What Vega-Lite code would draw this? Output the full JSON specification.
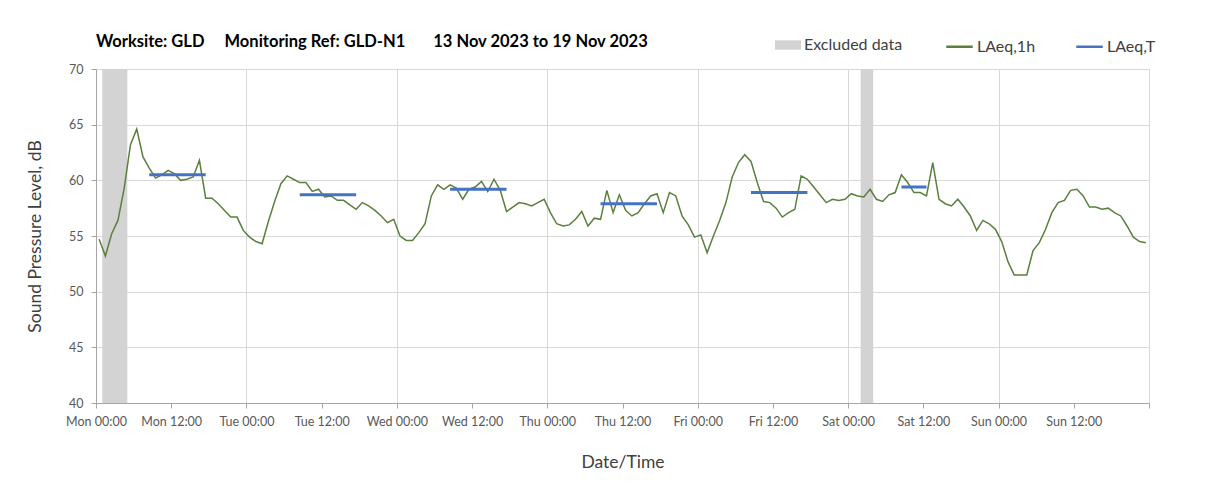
{
  "$schema": "https://vega.github.io/schema/vega-lite/v6.json",
  "width": 1053,
  "height": 334,
  "autosize": {"type": "none"},
  "padding": {"left": 96, "top": 69, "right": 59, "bottom": 93},
  "background": "white",
  "config": {
    "font": "Lato",
    "view": {"stroke": null},
    "axis": {
      "labelFontSize": 12.5,
      "labelColor": "#595959",
      "titleFontSize": 17.5,
      "titleFontWeight": "normal",
      "titleColor": "#404040",
      "domainColor": "#a6a6a6",
      "tickColor": "#a6a6a6",
      "tickSize": 5,
      "gridColor": "#d9d9d9"
    },
    "legend": {
      "orient": "none",
      "direction": "horizontal",
      "padding": 0,
      "labelFontSize": 16,
      "labelColor": "#404040",
      "labelOffset": 3,
      "columnPadding": 35,
      "symbolSize": 700
    }
  },
  "title": {
    "text": "Worksite: GLD\u00a0\u00a0\u00a0\u00a0\u00a0Monitoring Ref: GLD-N1\u00a0\u00a0\u00a0\u00a0\u00a0\u00a0\u00a013 Nov 2023 to 19 Nov 2023",
    "anchor": "start",
    "frame": "group",
    "fontSize": 16.5,
    "fontWeight": "bold",
    "color": "#000000",
    "offset": 12,
    "dy": 30
  },
  "layer": [
    {
      "data": {"values": [
        {"start": "2023-11-13T01:00:00", "end": "2023-11-13T05:00:00", "series": "Excluded data"},
        {"start": "2023-11-18T02:00:00", "end": "2023-11-18T04:00:00", "series": "Excluded data"}
      ]},
      "mark": {"type": "rect"},
      "encoding": {
        "x": {
          "field": "start",
          "type": "temporal",
          "scale": {
            "domain": [
              {"year": 2023, "month": 11, "date": 13},
              {"year": 2023, "month": 11, "date": 20}
            ]
          },
          "axis": {
            "title": "Date/Time",
            "format": "%a %H:%M",
            "tickCount": 14,
            "labelExpr": "date(datum.value) === 20 ? '' : datum.label",
            "labelFlush": false,
            "labelPadding": 7,
            "titlePadding": 26,
            "grid": true,
            "gridOpacity": {"condition": {"test": "hours(datum.value) === 0", "value": 1}, "value": 0}
          }
        },
        "x2": {"field": "end"},
        "fill": {
          "field": "series",
          "type": "nominal",
          "scale": {"domain": ["Excluded data"], "range": ["#d3d3d3"]},
          "legend": {
            "title": null,
            "legendX": 679,
            "legendY": -37,
            "symbolType": "M-1,-0.36H1V0.36H-1Z",
            "symbolStrokeWidth": 0,
            "symbolSize": 676
          }
        }
      }
    },
    {
      "data": {"values": [
        {"t": "2023-11-13T00:30:00", "laeq": 54.7, "series": "LAeq,1h"}, {"t": "2023-11-13T01:30:00", "laeq": 53.2, "series": "LAeq,1h"},
        {"t": "2023-11-13T02:30:00", "laeq": 55.2, "series": "LAeq,1h"}, {"t": "2023-11-13T03:30:00", "laeq": 56.4, "series": "LAeq,1h"},
        {"t": "2023-11-13T04:30:00", "laeq": 59.3, "series": "LAeq,1h"}, {"t": "2023-11-13T05:30:00", "laeq": 63.2, "series": "LAeq,1h"},
        {"t": "2023-11-13T06:30:00", "laeq": 64.6, "series": "LAeq,1h"}, {"t": "2023-11-13T07:30:00", "laeq": 62.1, "series": "LAeq,1h"},
        {"t": "2023-11-13T08:30:00", "laeq": 61.1, "series": "LAeq,1h"}, {"t": "2023-11-13T09:30:00", "laeq": 60.2, "series": "LAeq,1h"},
        {"t": "2023-11-13T10:30:00", "laeq": 60.5, "series": "LAeq,1h"}, {"t": "2023-11-13T11:30:00", "laeq": 60.9, "series": "LAeq,1h"},
        {"t": "2023-11-13T12:30:00", "laeq": 60.6, "series": "LAeq,1h"}, {"t": "2023-11-13T13:30:00", "laeq": 60.0, "series": "LAeq,1h"},
        {"t": "2023-11-13T14:30:00", "laeq": 60.1, "series": "LAeq,1h"}, {"t": "2023-11-13T15:30:00", "laeq": 60.3, "series": "LAeq,1h"},
        {"t": "2023-11-13T16:30:00", "laeq": 61.8, "series": "LAeq,1h"}, {"t": "2023-11-13T17:30:00", "laeq": 58.4, "series": "LAeq,1h"},
        {"t": "2023-11-13T18:30:00", "laeq": 58.4, "series": "LAeq,1h"}, {"t": "2023-11-13T19:30:00", "laeq": 57.9, "series": "LAeq,1h"},
        {"t": "2023-11-13T20:30:00", "laeq": 57.3, "series": "LAeq,1h"}, {"t": "2023-11-13T21:30:00", "laeq": 56.7, "series": "LAeq,1h"},
        {"t": "2023-11-13T22:30:00", "laeq": 56.7, "series": "LAeq,1h"}, {"t": "2023-11-13T23:30:00", "laeq": 55.5, "series": "LAeq,1h"},
        {"t": "2023-11-14T00:30:00", "laeq": 54.9, "series": "LAeq,1h"}, {"t": "2023-11-14T01:30:00", "laeq": 54.5, "series": "LAeq,1h"},
        {"t": "2023-11-14T02:30:00", "laeq": 54.3, "series": "LAeq,1h"}, {"t": "2023-11-14T03:30:00", "laeq": 56.3, "series": "LAeq,1h"},
        {"t": "2023-11-14T04:30:00", "laeq": 58.1, "series": "LAeq,1h"}, {"t": "2023-11-14T05:30:00", "laeq": 59.7, "series": "LAeq,1h"},
        {"t": "2023-11-14T06:30:00", "laeq": 60.4, "series": "LAeq,1h"}, {"t": "2023-11-14T07:30:00", "laeq": 60.1, "series": "LAeq,1h"},
        {"t": "2023-11-14T08:30:00", "laeq": 59.8, "series": "LAeq,1h"}, {"t": "2023-11-14T09:30:00", "laeq": 59.8, "series": "LAeq,1h"},
        {"t": "2023-11-14T10:30:00", "laeq": 59.0, "series": "LAeq,1h"}, {"t": "2023-11-14T11:30:00", "laeq": 59.2, "series": "LAeq,1h"},
        {"t": "2023-11-14T12:30:00", "laeq": 58.5, "series": "LAeq,1h"}, {"t": "2023-11-14T13:30:00", "laeq": 58.6, "series": "LAeq,1h"},
        {"t": "2023-11-14T14:30:00", "laeq": 58.2, "series": "LAeq,1h"}, {"t": "2023-11-14T15:30:00", "laeq": 58.2, "series": "LAeq,1h"},
        {"t": "2023-11-14T16:30:00", "laeq": 57.8, "series": "LAeq,1h"}, {"t": "2023-11-14T17:30:00", "laeq": 57.4, "series": "LAeq,1h"},
        {"t": "2023-11-14T18:30:00", "laeq": 58.0, "series": "LAeq,1h"}, {"t": "2023-11-14T19:30:00", "laeq": 57.7, "series": "LAeq,1h"},
        {"t": "2023-11-14T20:30:00", "laeq": 57.3, "series": "LAeq,1h"}, {"t": "2023-11-14T21:30:00", "laeq": 56.8, "series": "LAeq,1h"},
        {"t": "2023-11-14T22:30:00", "laeq": 56.2, "series": "LAeq,1h"}, {"t": "2023-11-14T23:30:00", "laeq": 56.5, "series": "LAeq,1h"},
        {"t": "2023-11-15T00:30:00", "laeq": 55.0, "series": "LAeq,1h"}, {"t": "2023-11-15T01:30:00", "laeq": 54.6, "series": "LAeq,1h"},
        {"t": "2023-11-15T02:30:00", "laeq": 54.6, "series": "LAeq,1h"}, {"t": "2023-11-15T03:30:00", "laeq": 55.3, "series": "LAeq,1h"},
        {"t": "2023-11-15T04:30:00", "laeq": 56.1, "series": "LAeq,1h"}, {"t": "2023-11-15T05:30:00", "laeq": 58.6, "series": "LAeq,1h"},
        {"t": "2023-11-15T06:30:00", "laeq": 59.6, "series": "LAeq,1h"}, {"t": "2023-11-15T07:30:00", "laeq": 59.2, "series": "LAeq,1h"},
        {"t": "2023-11-15T08:30:00", "laeq": 59.6, "series": "LAeq,1h"}, {"t": "2023-11-15T09:30:00", "laeq": 59.3, "series": "LAeq,1h"},
        {"t": "2023-11-15T10:30:00", "laeq": 58.3, "series": "LAeq,1h"}, {"t": "2023-11-15T11:30:00", "laeq": 59.2, "series": "LAeq,1h"},
        {"t": "2023-11-15T12:30:00", "laeq": 59.4, "series": "LAeq,1h"}, {"t": "2023-11-15T13:30:00", "laeq": 59.9, "series": "LAeq,1h"},
        {"t": "2023-11-15T14:30:00", "laeq": 59.0, "series": "LAeq,1h"}, {"t": "2023-11-15T15:30:00", "laeq": 60.1, "series": "LAeq,1h"},
        {"t": "2023-11-15T16:30:00", "laeq": 59.1, "series": "LAeq,1h"}, {"t": "2023-11-15T17:30:00", "laeq": 57.2, "series": "LAeq,1h"},
        {"t": "2023-11-15T18:30:00", "laeq": 57.6, "series": "LAeq,1h"}, {"t": "2023-11-15T19:30:00", "laeq": 58.0, "series": "LAeq,1h"},
        {"t": "2023-11-15T20:30:00", "laeq": 57.9, "series": "LAeq,1h"}, {"t": "2023-11-15T21:30:00", "laeq": 57.7, "series": "LAeq,1h"},
        {"t": "2023-11-15T22:30:00", "laeq": 58.0, "series": "LAeq,1h"}, {"t": "2023-11-15T23:30:00", "laeq": 58.3, "series": "LAeq,1h"},
        {"t": "2023-11-16T00:30:00", "laeq": 57.1, "series": "LAeq,1h"}, {"t": "2023-11-16T01:30:00", "laeq": 56.1, "series": "LAeq,1h"},
        {"t": "2023-11-16T02:30:00", "laeq": 55.9, "series": "LAeq,1h"}, {"t": "2023-11-16T03:30:00", "laeq": 56.0, "series": "LAeq,1h"},
        {"t": "2023-11-16T04:30:00", "laeq": 56.5, "series": "LAeq,1h"}, {"t": "2023-11-16T05:30:00", "laeq": 57.2, "series": "LAeq,1h"},
        {"t": "2023-11-16T06:30:00", "laeq": 55.9, "series": "LAeq,1h"}, {"t": "2023-11-16T07:30:00", "laeq": 56.6, "series": "LAeq,1h"},
        {"t": "2023-11-16T08:30:00", "laeq": 56.5, "series": "LAeq,1h"}, {"t": "2023-11-16T09:30:00", "laeq": 59.1, "series": "LAeq,1h"},
        {"t": "2023-11-16T10:30:00", "laeq": 57.1, "series": "LAeq,1h"}, {"t": "2023-11-16T11:30:00", "laeq": 58.7, "series": "LAeq,1h"},
        {"t": "2023-11-16T12:30:00", "laeq": 57.3, "series": "LAeq,1h"}, {"t": "2023-11-16T13:30:00", "laeq": 56.8, "series": "LAeq,1h"},
        {"t": "2023-11-16T14:30:00", "laeq": 57.1, "series": "LAeq,1h"}, {"t": "2023-11-16T15:30:00", "laeq": 57.9, "series": "LAeq,1h"},
        {"t": "2023-11-16T16:30:00", "laeq": 58.6, "series": "LAeq,1h"}, {"t": "2023-11-16T17:30:00", "laeq": 58.8, "series": "LAeq,1h"},
        {"t": "2023-11-16T18:30:00", "laeq": 57.1, "series": "LAeq,1h"}, {"t": "2023-11-16T19:30:00", "laeq": 58.9, "series": "LAeq,1h"},
        {"t": "2023-11-16T20:30:00", "laeq": 58.6, "series": "LAeq,1h"}, {"t": "2023-11-16T21:30:00", "laeq": 56.8, "series": "LAeq,1h"},
        {"t": "2023-11-16T22:30:00", "laeq": 56.0, "series": "LAeq,1h"}, {"t": "2023-11-16T23:30:00", "laeq": 54.9, "series": "LAeq,1h"},
        {"t": "2023-11-17T00:30:00", "laeq": 55.1, "series": "LAeq,1h"}, {"t": "2023-11-17T01:30:00", "laeq": 53.5, "series": "LAeq,1h"},
        {"t": "2023-11-17T02:30:00", "laeq": 55.0, "series": "LAeq,1h"}, {"t": "2023-11-17T03:30:00", "laeq": 56.4, "series": "LAeq,1h"},
        {"t": "2023-11-17T04:30:00", "laeq": 58.0, "series": "LAeq,1h"}, {"t": "2023-11-17T05:30:00", "laeq": 60.3, "series": "LAeq,1h"},
        {"t": "2023-11-17T06:30:00", "laeq": 61.6, "series": "LAeq,1h"}, {"t": "2023-11-17T07:30:00", "laeq": 62.3, "series": "LAeq,1h"},
        {"t": "2023-11-17T08:30:00", "laeq": 61.7, "series": "LAeq,1h"}, {"t": "2023-11-17T09:30:00", "laeq": 59.8, "series": "LAeq,1h"},
        {"t": "2023-11-17T10:30:00", "laeq": 58.1, "series": "LAeq,1h"}, {"t": "2023-11-17T11:30:00", "laeq": 58.0, "series": "LAeq,1h"},
        {"t": "2023-11-17T12:30:00", "laeq": 57.5, "series": "LAeq,1h"}, {"t": "2023-11-17T13:30:00", "laeq": 56.7, "series": "LAeq,1h"},
        {"t": "2023-11-17T14:30:00", "laeq": 57.1, "series": "LAeq,1h"}, {"t": "2023-11-17T15:30:00", "laeq": 57.4, "series": "LAeq,1h"},
        {"t": "2023-11-17T16:30:00", "laeq": 60.4, "series": "LAeq,1h"}, {"t": "2023-11-17T17:30:00", "laeq": 60.1, "series": "LAeq,1h"},
        {"t": "2023-11-17T18:30:00", "laeq": 59.4, "series": "LAeq,1h"}, {"t": "2023-11-17T19:30:00", "laeq": 58.7, "series": "LAeq,1h"},
        {"t": "2023-11-17T20:30:00", "laeq": 58.0, "series": "LAeq,1h"}, {"t": "2023-11-17T21:30:00", "laeq": 58.3, "series": "LAeq,1h"},
        {"t": "2023-11-17T22:30:00", "laeq": 58.2, "series": "LAeq,1h"}, {"t": "2023-11-17T23:30:00", "laeq": 58.3, "series": "LAeq,1h"},
        {"t": "2023-11-18T00:30:00", "laeq": 58.8, "series": "LAeq,1h"}, {"t": "2023-11-18T01:30:00", "laeq": 58.6, "series": "LAeq,1h"},
        {"t": "2023-11-18T02:30:00", "laeq": 58.5, "series": "LAeq,1h"}, {"t": "2023-11-18T03:30:00", "laeq": 59.2, "series": "LAeq,1h"},
        {"t": "2023-11-18T04:30:00", "laeq": 58.3, "series": "LAeq,1h"}, {"t": "2023-11-18T05:30:00", "laeq": 58.1, "series": "LAeq,1h"},
        {"t": "2023-11-18T06:30:00", "laeq": 58.7, "series": "LAeq,1h"}, {"t": "2023-11-18T07:30:00", "laeq": 58.9, "series": "LAeq,1h"},
        {"t": "2023-11-18T08:30:00", "laeq": 60.5, "series": "LAeq,1h"}, {"t": "2023-11-18T09:30:00", "laeq": 59.8, "series": "LAeq,1h"},
        {"t": "2023-11-18T10:30:00", "laeq": 58.9, "series": "LAeq,1h"}, {"t": "2023-11-18T11:30:00", "laeq": 58.9, "series": "LAeq,1h"},
        {"t": "2023-11-18T12:30:00", "laeq": 58.6, "series": "LAeq,1h"}, {"t": "2023-11-18T13:30:00", "laeq": 61.6, "series": "LAeq,1h"},
        {"t": "2023-11-18T14:30:00", "laeq": 58.3, "series": "LAeq,1h"}, {"t": "2023-11-18T15:30:00", "laeq": 57.9, "series": "LAeq,1h"},
        {"t": "2023-11-18T16:30:00", "laeq": 57.7, "series": "LAeq,1h"}, {"t": "2023-11-18T17:30:00", "laeq": 58.3, "series": "LAeq,1h"},
        {"t": "2023-11-18T18:30:00", "laeq": 57.6, "series": "LAeq,1h"}, {"t": "2023-11-18T19:30:00", "laeq": 56.8, "series": "LAeq,1h"},
        {"t": "2023-11-18T20:30:00", "laeq": 55.5, "series": "LAeq,1h"}, {"t": "2023-11-18T21:30:00", "laeq": 56.4, "series": "LAeq,1h"},
        {"t": "2023-11-18T22:30:00", "laeq": 56.1, "series": "LAeq,1h"}, {"t": "2023-11-18T23:30:00", "laeq": 55.6, "series": "LAeq,1h"},
        {"t": "2023-11-19T00:30:00", "laeq": 54.5, "series": "LAeq,1h"}, {"t": "2023-11-19T01:30:00", "laeq": 52.7, "series": "LAeq,1h"},
        {"t": "2023-11-19T02:30:00", "laeq": 51.5, "series": "LAeq,1h"}, {"t": "2023-11-19T03:30:00", "laeq": 51.5, "series": "LAeq,1h"},
        {"t": "2023-11-19T04:30:00", "laeq": 51.5, "series": "LAeq,1h"}, {"t": "2023-11-19T05:30:00", "laeq": 53.7, "series": "LAeq,1h"},
        {"t": "2023-11-19T06:30:00", "laeq": 54.4, "series": "LAeq,1h"}, {"t": "2023-11-19T07:30:00", "laeq": 55.6, "series": "LAeq,1h"},
        {"t": "2023-11-19T08:30:00", "laeq": 57.1, "series": "LAeq,1h"}, {"t": "2023-11-19T09:30:00", "laeq": 58.0, "series": "LAeq,1h"},
        {"t": "2023-11-19T10:30:00", "laeq": 58.2, "series": "LAeq,1h"}, {"t": "2023-11-19T11:30:00", "laeq": 59.1, "series": "LAeq,1h"},
        {"t": "2023-11-19T12:30:00", "laeq": 59.2, "series": "LAeq,1h"}, {"t": "2023-11-19T13:30:00", "laeq": 58.6, "series": "LAeq,1h"},
        {"t": "2023-11-19T14:30:00", "laeq": 57.6, "series": "LAeq,1h"}, {"t": "2023-11-19T15:30:00", "laeq": 57.6, "series": "LAeq,1h"},
        {"t": "2023-11-19T16:30:00", "laeq": 57.4, "series": "LAeq,1h"}, {"t": "2023-11-19T17:30:00", "laeq": 57.5, "series": "LAeq,1h"},
        {"t": "2023-11-19T18:30:00", "laeq": 57.1, "series": "LAeq,1h"}, {"t": "2023-11-19T19:30:00", "laeq": 56.8, "series": "LAeq,1h"},
        {"t": "2023-11-19T20:30:00", "laeq": 55.9, "series": "LAeq,1h"}, {"t": "2023-11-19T21:30:00", "laeq": 54.9, "series": "LAeq,1h"},
        {"t": "2023-11-19T22:30:00", "laeq": 54.5, "series": "LAeq,1h"}, {"t": "2023-11-19T23:30:00", "laeq": 54.4, "series": "LAeq,1h"}
      ]},
      "mark": {"type": "line", "strokeWidth": 1.5},
      "encoding": {
        "x": {"field": "t", "type": "temporal"},
        "y": {
          "field": "laeq",
          "type": "quantitative",
          "scale": {"domain": [40, 70], "nice": false, "zero": false},
          "axis": {
            "title": "Sound Pressure Level, dB",
            "values": [40, 45, 50, 55, 60, 65, 70],
            "grid": true,
            "labelPadding": 8,
            "titlePadding": 24
          }
        },
        "stroke": {
          "field": "series",
          "type": "nominal",
          "scale": {"domain": ["LAeq,1h", "LAeq,T"], "range": ["#5b7f3d", "#4472c4"]},
          "legend": {
            "title": null,
            "legendX": 849,
            "legendY": -37,
            "symbolType": "stroke",
            "symbolStrokeWidth": 2.5
          }
        }
      }
    },
    {
      "data": {"values": [
        {"start": "2023-11-13T08:30:00", "end": "2023-11-13T17:30:00", "laeq": 60.5, "series": "LAeq,T"},
        {"start": "2023-11-14T08:30:00", "end": "2023-11-14T17:30:00", "laeq": 58.7, "series": "LAeq,T"},
        {"start": "2023-11-15T08:30:00", "end": "2023-11-15T17:30:00", "laeq": 59.2, "series": "LAeq,T"},
        {"start": "2023-11-16T08:30:00", "end": "2023-11-16T17:30:00", "laeq": 57.9, "series": "LAeq,T"},
        {"start": "2023-11-17T08:30:00", "end": "2023-11-17T17:30:00", "laeq": 58.9, "series": "LAeq,T"},
        {"start": "2023-11-18T08:30:00", "end": "2023-11-18T12:30:00", "laeq": 59.4, "series": "LAeq,T"}
      ]},
      "mark": {"type": "rule", "strokeWidth": 3},
      "encoding": {
        "x": {"field": "start", "type": "temporal"},
        "x2": {"field": "end"},
        "y": {"field": "laeq", "type": "quantitative"},
        "stroke": {"field": "series", "type": "nominal"}
      }
    }
  ]
}
